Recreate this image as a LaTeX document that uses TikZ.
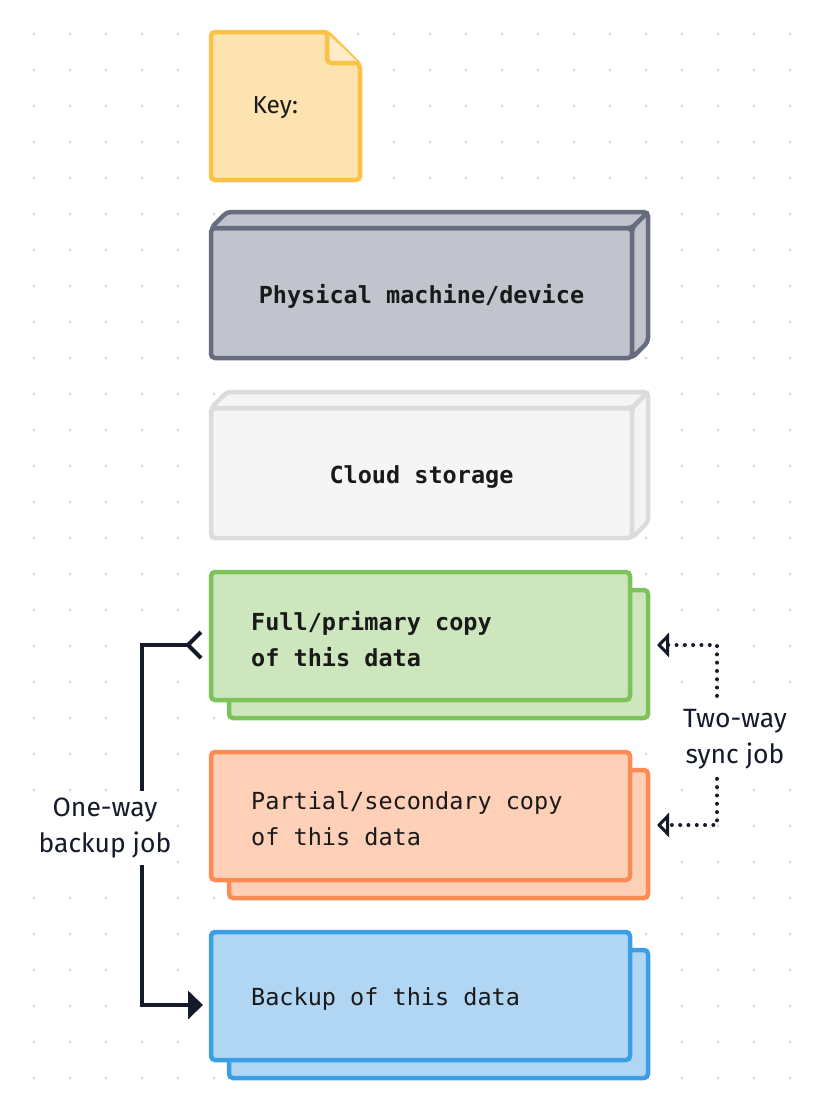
\documentclass[tikz,border=0pt]{standalone}
\usepackage{fontspec}
\setmainfont{Fira Sans}
\newfontfamily\codefont{DejaVu Sans Mono}
\usetikzlibrary{arrows.meta,calc}

\definecolor{ink}{HTML}{141A29}
\definecolor{keyfill}{HTML}{FCE3B0}
\definecolor{keyline}{HTML}{FCC244}
\definecolor{keyfold}{HTML}{FDEBC9}
\definecolor{devfill}{HTML}{C1C4CC}
\definecolor{devline}{HTML}{676C7F}
\definecolor{cloudfill}{HTML}{F5F5F5}
\definecolor{cloudline}{HTML}{DCDCDF}
\definecolor{fullfill}{HTML}{CDE6BD}
\definecolor{fullline}{HTML}{7DC25A}
\definecolor{partfill}{HTML}{FDD0B7}
\definecolor{partline}{HTML}{FB8C54}
\definecolor{bakfill}{HTML}{B1D6F4}
\definecolor{bakline}{HTML}{3B9FE8}
\definecolor{griddot}{HTML}{DADADA}

\tikzset{
  box/.style={draw, line width=4.5pt, rounded corners=4pt, rectangle, inner sep=0pt, outer sep=0pt},
  databox/.style={box, minimum width=419pt, minimum height=128pt},
  datatext/.style={anchor=west, inner sep=0pt, align=left, text=black!90,
    font=\codefont\fontsize{23.5}{36}\selectfont,
    execute at begin node={\spaceskip=0.602em\relax}},
  devbox/.style={box, minimum width=421pt, minimum height=130pt, text height=25pt, text depth=5pt,
    text=black!90, font=\codefont\bfseries\fontsize{23.5}{36}\selectfont},
  jobtext/.style={fill=white, align=center, inner xsep=6pt, inner ysep=7pt, text=ink,
    font=\fontsize{26.5}{36}\selectfont},
  oneway/.style={draw=ink, line width=4pt,
    {Straight Barb[reversed,length=13pt,width=26pt]}-{Triangle[length=15pt,width=28pt]}},
  twoway/.style={draw=ink, line width=4pt, line cap=round, dash pattern=on 0pt off 8.3pt,
    {Triangle[open,fill=white,length=12pt,width=24pt]}-{Triangle[open,fill=white,length=12pt,width=24pt]}}
}

\begin{document}
\begin{tikzpicture}[x=1pt, y=-1pt]
    \useasboundingbox (0,0) rectangle (824,1112);
    \foreach \x in {34,70,...,790}
        \foreach \y in {34,70,...,1078}
            \fill[griddot] (\x,\y) circle (1.6pt);

    % key note
    \draw[box, fill=keyfill, draw=keyline]
        (211,32) -- (327,32) -- (360,65) -- (360,180) -- (211,180) -- cycle;
    \draw[fill=keyfold, draw=keyline, line width=4.5pt, rounded corners=4pt, line join=round]
        (327,33) -- (327,63) -- (359,63);
    \node[text=black!90, font=\fontsize{24.5}{30}\selectfont, anchor=west] (key) at (249,108) {Key:};

    % physical machine
    \node[devbox, fill=devfill, draw=devline] (dev) at (421.5,293) {Physical machine/device};
    \draw[box, fill=devfill, draw=devline] (dev.north west) -- ++(16,-16)
        -- ([shift={(16,-16)}]dev.north east) -- (dev.north east) -- cycle;
    \draw[box, fill=devfill, draw=devline] (dev.north east) -- ++(16,-16)
        -- ([shift={(16,-16)}]dev.south east) -- (dev.south east) -- cycle;

    % cloud storage
    \node[devbox, fill=cloudfill, draw=cloudline] (cloud) at (421.5,473) {Cloud storage};
    \draw[box, fill=cloudfill, draw=cloudline] (cloud.north west) -- ++(16,-16)
        -- ([shift={(16,-16)}]cloud.north east) -- (cloud.north east) -- cycle;
    \draw[box, fill=cloudfill, draw=cloudline] (cloud.north east) -- ++(16,-16)
        -- ([shift={(16,-16)}]cloud.south east) -- (cloud.south east) -- cycle;

    % data copies
    \node[databox, fill=fullfill, draw=fullline] (gback) at (438.5,654) {};
    \node[databox, fill=fullfill, draw=fullline] (gfront) at (420.5,636) {};
    \node[datatext, font=\codefont\bfseries\fontsize{23.5}{36}\selectfont] (gtext)
        at ($(gfront.west)+(40,3)$) {Full/primary copy\\of this data};
    \node[databox, fill=partfill, draw=partline] (oback) at (438.5,834) {};
    \node[databox, fill=partfill, draw=partline] (ofront) at (420.5,816) {};
    \node[datatext] (otext) at ($(ofront.west)+(40,3)$) {Partial/secondary copy\\of this data};
    \node[databox, fill=bakfill, draw=bakline] (bback) at (438.5,1014) {};
    \node[databox, fill=bakfill, draw=bakline] (bfront) at (420.5,996) {};
    \node[datatext] (btext) at ($(bfront.west)+(40,3)$) {Backup of this data};

    \coordinate (gmid) at ($(gfront.center)!.5!(gback.center)$);
    \coordinate (omid) at ($(ofront.center)!.5!(oback.center)$);
    \coordinate (bmid) at ($(bfront.center)!.5!(bback.center)$);

    % jobs
    \draw[oneway] ($(gfront.west |- gmid)+(-8,0)$) -- ++(-61,0) |- ($(bfront.west |- bmid)+(-8,0)$);
    \node[jobtext] (backupjob) at (105,828) {One-way\\backup job};

    \draw[twoway] ($(gback.east |- gmid)+(9,0)$) -- ++(60,0) |- ($(oback.east |- omid)+(9,0)$);
    \node[jobtext] (syncjob) at (735,739) {Two-way\\sync job};
\end{tikzpicture}
\end{document}
